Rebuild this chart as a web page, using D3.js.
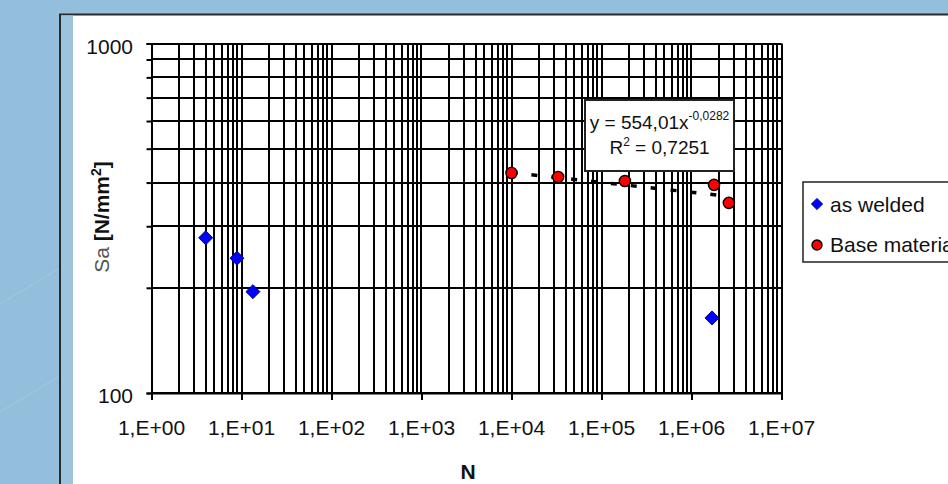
<!DOCTYPE html>
<html>
<head>
<meta charset="utf-8">
<script src="https://cdn.jsdelivr.net/npm/d3@7"></script>
<style>
  html, body { margin: 0; padding: 0; background: #94bfdc; overflow: hidden; }
  text { font-family: "Liberation Sans", Arial, sans-serif; }
</style>
</head>
<body>
<script>
// as welded series (diamonds)
var weldedN = [4.0, 8.9, 13.4, 1.69e6];
var weldedS = [278, 243, 195, 164];
// base material series (circles)
var baseN = [1.0e4, 3.3e4, 1.82e5, 1.78e6, 2.6e6];
var baseS = [426, 415, 404, 394, 350];
// power trendline on base material: y = a * x^b
var trendCoef = [554.01, -0.0282];
var trendR2 = "0,7251";

var xTickLabels = ["1,E+00","1,E+01","1,E+02","1,E+03","1,E+04","1,E+05","1,E+06","1,E+07"];
var yTickLabels = ["100", "1000"];
var legendNames = ["as welded", "Base material"];

var W = 948, H = 484;
var margin = {top: 43.5, left: 151.5, right: W - 781.5, bottom: H - 393};

var svg = d3.select("body").append("svg")
    .attr("width", W)
    .attr("height", H);

// faint diagonal streaks in the backdrop
var streaks = [-300, -120, 60, 240, 420, 600, 780, 960];
svg.selectAll("line.streak")
    .data(streaks)
  .enter().append("line")
    .attr("class", "streak")
    .attr("x1", function(d){ return d; })
    .attr("y1", H)
    .attr("x2", function(d){ return d + 700; })
    .attr("y2", H - 420)
    .style("stroke", "#ffffff")
    .style("stroke-opacity", 0.15)
    .style("stroke-width", 1);

// white panel
svg.append("rect")
    .attr("x", 60).attr("y", 14.5)
    .attr("width", 960).attr("height", 520)
    .style("fill", "#ffffff")
    .style("stroke", "#2a2a2a")
    .style("stroke-width", 2);
svg.append("rect")
    .attr("x", 61).attr("y", 15.5)
    .attr("width", 12).attr("height", 520)
    .style("fill", "#9cc4df");

var x = d3.scaleLog()
    .domain([1, 1e7])
    .range([margin.left, W - margin.right]);
var y = d3.scaleLog()
    .domain([100, 1000])
    .range([H - margin.bottom, margin.top]);

// grid values
var xGrid = [];
for (var k = 0; k < 7; k++) {
  for (var m = 1; m < 10; m++) { xGrid.push(m * Math.pow(10, k)); }
}
xGrid.push(1e7);
var yGrid = d3.range(100, 1001, 100);
var xMajor = xGrid.filter(function(d){ return Math.abs(Math.log10(d) % 1) < 1e-9; });

var grid = svg.append("g").attr("class", "grid");
grid.selectAll("line.vx")
    .data(xGrid)
  .enter().append("line")
    .attr("x1", function(d){ return Math.round(x(d)); })
    .attr("x2", function(d){ return Math.round(x(d)); })
    .attr("y1", y(1000)).attr("y2", y(100))
    .style("stroke", "#000").style("stroke-width", 2);
grid.selectAll("line.hy")
    .data(yGrid)
  .enter().append("line")
    .attr("y1", function(d){ return Math.round(y(d)); })
    .attr("y2", function(d){ return Math.round(y(d)); })
    .attr("x1", x(1)).attr("x2", x(1e7))
    .style("stroke", "#000").style("stroke-width", 2);

// y axis: ticks on every gridline, labels at 100 and 1000
var yAxis = svg.append("g")
    .attr("transform", "translate(" + x(1) + ",0)")
    .call(d3.axisLeft(y).tickValues(yGrid).tickSize(5).tickFormat(""));
yAxis.selectAll("line, path").style("stroke", "#000").style("stroke-width", 2);
svg.selectAll("text.ylab")
    .data(yTickLabels)
  .enter().append("text")
    .attr("class", "ylab")
    .attr("x", 133)
    .attr("y", function(d){ return y(+d) + 10; })
    .attr("text-anchor", "end")
    .style("font-size", "21px")
    .style("fill", "#111")
    .text(function(d){ return d; });

// x axis: major ticks downwards
var xAxis = svg.append("g")
    .attr("transform", "translate(0," + y(100) + ")")
    .call(d3.axisBottom(x).tickValues(xMajor).tickSize(7).tickFormat(""));
xAxis.selectAll("line, path").style("stroke", "#000").style("stroke-width", 2);
svg.selectAll("text.xlab")
    .data(xMajor)
  .enter().append("text")
    .attr("class", "xlab")
    .attr("x", function(d){ return x(d); })
    .attr("y", 435)
    .attr("text-anchor", "middle")
    .style("font-size", "21px")
    .style("fill", "#111")
    .text(function(d, i){ return xTickLabels[i]; });

// axis titles
svg.append("text")
    .attr("x", 468).attr("y", 479)
    .attr("text-anchor", "middle")
    .style("font-size", "21px").style("font-weight", "bold")
    .style("fill", "#111")
    .text("N");

var yt = svg.append("text")
    .attr("transform", "translate(109,217) rotate(-90)")
    .attr("text-anchor", "middle")
    .style("font-size", "21px")
    .style("fill", "#111");
yt.append("tspan").style("fill", "#555").text("Sa ");
yt.append("tspan").style("font-weight", "bold").text("[N/mm");
yt.append("tspan").style("font-weight", "bold").style("font-size", "14px").attr("dy", -8).text("2");
yt.append("tspan").style("font-weight", "bold").attr("dy", 8).text("]");

// trendline over the base material range
var trendN = d3.extent(baseN);
var trendPts = trendN.map(function(n){ return [n, trendCoef[0] * Math.pow(n, trendCoef[1])]; });
svg.append("path")
    .datum(trendPts)
    .attr("d", d3.line()
        .x(function(d){ return x(d[0]); })
        .y(function(d){ return y(d[1]); }))
    .style("fill", "none")
    .style("stroke", "#000")
    .style("stroke-width", 3.5)
    .style("stroke-dasharray", "6,14");

// as welded diamonds
var diamond = d3.symbol().type(d3.symbolDiamond2).size(125);
svg.selectAll("path.welded")
    .data(weldedN)
  .enter().append("path")
    .attr("class", "welded")
    .attr("transform", function(d, i){ return "translate(" + x(d) + "," + y(weldedS[i]) + ")"; })
    .attr("d", diamond)
    .style("fill", "#0000ff")
    .style("stroke", "#00008b")
    .style("stroke-width", 1);

// base material circles
svg.selectAll("circle.base")
    .data(baseN)
  .enter().append("circle")
    .attr("class", "base")
    .attr("cx", function(d){ return x(d); })
    .attr("cy", function(d, i){ return y(baseS[i]); })
    .attr("r", 5.6)
    .style("fill", "#ff0000")
    .style("stroke", "#000")
    .style("stroke-width", 1.4);

// equation box
var eq = svg.append("g");
eq.append("rect")
    .attr("x", 585).attr("y", 100)
    .attr("width", 149).attr("height", 71)
    .style("fill", "#fff")
    .style("stroke", "#222")
    .style("stroke-width", 2);
var l1 = eq.append("text")
    .attr("x", 659.5).attr("y", 129)
    .attr("text-anchor", "middle")
    .style("font-size", "19px").style("fill", "#111");
l1.append("tspan").text("y = " + String(trendCoef[0]).replace(".", ",") + "x");
l1.append("tspan").attr("dy", -9).style("font-size", "12px")
    .text(String(trendCoef[1]).replace(".", ","));
var l2 = eq.append("text")
    .attr("x", 659.5).attr("y", 154)
    .attr("text-anchor", "middle")
    .style("font-size", "19px").style("fill", "#111");
l2.append("tspan").text("R");
l2.append("tspan").attr("dy", -8).style("font-size", "12px").text("2");
l2.append("tspan").attr("dy", 8).text(" = " + trendR2);

// legend
var lg = svg.append("g");
lg.append("rect")
    .attr("x", 803).attr("y", 182)
    .attr("width", 220).attr("height", 80)
    .style("fill", "#fff")
    .style("stroke", "#222")
    .style("stroke-width", 1.5);
lg.append("path")
    .attr("transform", "translate(817,204)")
    .attr("d", d3.symbol().type(d3.symbolDiamond2).size(80))
    .style("fill", "#0000ff").style("stroke", "#00008b");
lg.append("circle")
    .attr("cx", 817).attr("cy", 245).attr("r", 5)
    .style("fill", "#ff0000").style("stroke", "#000").style("stroke-width", 1.4);
lg.selectAll("text")
    .data(legendNames)
  .enter().append("text")
    .attr("x", 830)
    .attr("y", function(d, i){ return 212 + i * 40; })
    .style("font-size", "21px").style("fill", "#111")
    .text(function(d){ return d; });
</script>
</body>
</html>
